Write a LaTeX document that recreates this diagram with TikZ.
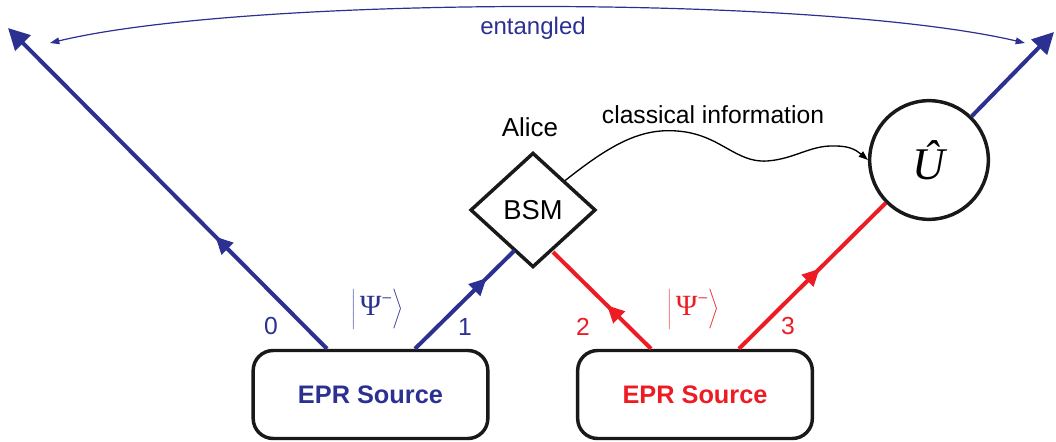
\RequirePackage{fix-cm}
\documentclass[tikz,border=0pt]{standalone}
\usepackage{fontspec}
\setmainfont{Liberation Sans}
\newfontfamily\seriffont{Liberation Serif}
\usetikzlibrary{shapes.geometric,arrows.meta,decorations.markings,calc}
\definecolor{qblue}{RGB}{43,48,145}
\definecolor{qred}{RGB}{237,28,36}
\newcommand{\psiket}{$\left|\vrule height 17pt depth 9pt width 0pt\,\hbox{\fontsize{22}{24}\selectfont\seriffont Ψ\raisebox{8pt}{\fontsize{14}{14}\selectfont −}}\right\rangle$}
\tikzset{
  srcbox/.style={draw=black!90,line width=2.6pt,rounded corners=15pt,minimum width=176pt,minimum height=66pt,inner sep=0pt,font=\fontsize{19}{21}\selectfont\bfseries},
  beam/.style={line width=3pt},
  midarrow/.style={postaction=decorate,decoration={markings,mark=at position #1 with {\arrow{Triangle[length=13pt,width=12pt]}}}},
  endarrow/.style={-{Triangle[length=16pt,width=16pt]}},
  lab/.style={font=\fontsize{18.5}{20}\selectfont},
  ketlab/.style={font=\fontsize{19}{21}\selectfont,inner sep=0pt}
}
\begin{document}
\begin{tikzpicture}[x=0.75pt,y=-0.75pt]
\useasboundingbox (0,0) rectangle (1056,442);
% sources
\node[srcbox,text=qblue] (srcA) at (370.5,394.5) {EPR Source};
\node[srcbox,text=qred] (srcB) at (695,394.5) {EPR Source};
% BSM
\node[draw=black!90,line width=2.6pt,diamond,minimum width=94pt,minimum height=86pt,inner sep=0pt,font=\fontsize{20.5}{22}\selectfont] (bsm) at (533,210) {BSM};
\node[font=\fontsize{19.5}{21}\selectfont] (alice) at (530,127) {Alice};
% U circle
\node[draw=black!90,line width=2.6pt,circle,minimum size=89pt,inner sep=0pt,font=\fontsize{34}{36}\selectfont\seriffont\itshape] (U) at (929,160) {\^{U}};
% coordinates
\coordinate (a0) at ($(srcA.north)+(-43.5,0)$);
\coordinate (a1) at ($(srcA.north)+(44.5,0)$);
\coordinate (b2) at ($(srcB.north)+(-44,0)$);
\coordinate (b3) at ($(srcB.north)+(44,0)$);
\coordinate (out0) at (8,28);
\coordinate (out3) at (1054,32);
\coordinate (bsmL) at (514.5,250.5);
\coordinate (bsmR) at (553,252);
\coordinate (e0) at (50,43);
\coordinate (e3) at (1025,43);
% beams
\draw[beam,qblue,endarrow,midarrow=0.35] (a0) -- (out0);
\draw[beam,qblue,midarrow=0.72] (a1) -- (bsmL);
\draw[beam,qred,midarrow=0.45] (b2) -- (bsmR);
\draw[beam,qred,midarrow=0.55] (b3) -- (U);
\draw[beam,qblue,endarrow] (U) -- (out3);
% entangled
\draw[qblue,line width=0.9pt,{Triangle[length=7pt,width=5pt]}-{Triangle[length=7pt,width=5pt]}] (e0) .. controls (250,-5) and (820,-5) .. (e3);
\node[font=\fontsize{18}{20}\selectfont,text=qblue] (ent) at (533,28) {entangled};
% classical info
\draw[line width=1pt,-{Triangle[length=7pt,width=5pt]}] (bsm.north east) .. controls (610,145) and (640,128) .. (677,131) .. controls (720,134) and (735,163) .. (767,161) .. controls (795,159) and (810,145) .. (835,146) .. controls (848,146) and (855,149) .. (U.west);
\node[lab] (ci) at (713,115) {classical information};
% labels
\node[lab,text=qblue] (l0) at (271,326) {0};
\node[lab,text=qblue] (l1) at (465,327) {1};
\node[lab,text=qred] (l2) at (583,327) {2};
\node[lab,text=qred] (l3) at (788,326) {3};
\node[ketlab,text=qblue] (psiA) at (377,309) {\psiket};
\node[ketlab,text=qred] (psiB) at (693,309) {\psiket};
\end{tikzpicture}
\end{document}
